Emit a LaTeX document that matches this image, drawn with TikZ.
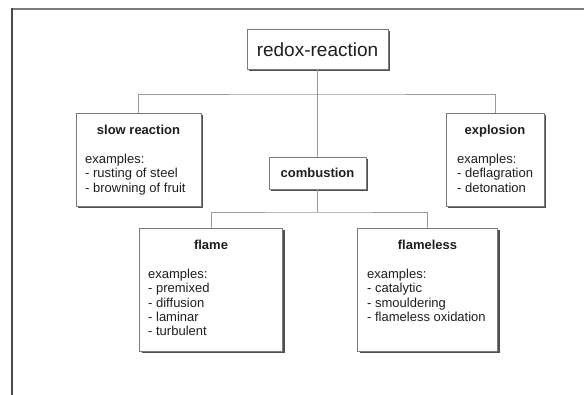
\documentclass[tikz,border=0pt]{standalone}
\usepackage{fontspec}
\setmainfont{Liberation Sans}
\usetikzlibrary{shadows}
\definecolor{boxline}{HTML}{7A7A7A}
\definecolor{shadowc}{HTML}{505050}
\definecolor{conn}{HTML}{9A9A9A}
\definecolor{txt}{HTML}{1E1E1E}
\definecolor{frametop}{HTML}{7A7A7A}
\definecolor{frameleft}{HTML}{4A4A4A}
\tikzset{
  box/.style={draw=boxline, line width=0.8pt, fill=white, inner sep=0pt,
    drop shadow={shadow xshift=2.2pt, shadow yshift=-2.2pt, fill=shadowc, opacity=1}},
  title/.style={inner sep=0pt, anchor=base, text=txt, font=\fontsize{13}{14.3}\selectfont\bfseries},
  list/.style={inner sep=0pt, anchor=base west, text=txt, font=\fontsize{13}{14.3}\selectfont},
  conline/.style={draw=conn, line width=0.8pt}
}
\begin{document}
\begin{tikzpicture}[x=1pt,y=-1pt]
\useasboundingbox (0,0) rectangle (584,395);
% frame
\draw[frametop, line width=1.8pt] (12,9) -- (584,9);
\draw[frameleft, line width=2pt] (12,8.1) -- (12,395);

% boxes
\node[box, minimum width=141pt, minimum height=40pt] (redox) at (317.5,49) {};
\node[box, minimum width=125pt, minimum height=93pt] (slow) at (138.5,159.5) {};
\node[box, minimum width=97pt, minimum height=32pt] (comb) at (317.5,173) {};
\node[box, minimum width=98pt, minimum height=93pt] (explo) at (495,159.5) {};
\node[box, minimum width=143pt, minimum height=123pt] (flame) at (211,289.5) {};
\node[box, minimum width=140pt, minimum height=123pt] (flless) at (427.5,289.5) {};

% connectors
\coordinate (j1) at (317.5,94);
\coordinate (j2) at (317.5,212);
\draw[conline] (slow.north) |- (j1) -| (explo.north);
\draw[conline] (redox.south) -- (comb.north);
\draw[conline] (flame.north) |- (j2) -| (flless.north);
\draw[conline] (comb.south) -- (j2);

% texts
\node[inner sep=0pt, anchor=base, text=txt, font=\fontsize{19}{22}\selectfont] (tredox) at (317.5,57) {redox-reaction};
\node[title] (tslow) at (138.5,135) {slow reaction};
\node[list] (lslow) at (85,163.6) {\begin{tabular}[t]{@{}l@{}}examples:\\- rusting of steel\\- browning of fruit\end{tabular}};
\node[title] (tcomb) at (317.5,177.5) {combustion};
\node[title] (texplo) at (495,135) {explosion};
\node[list] (lexplo) at (457,163.6) {\begin{tabular}[t]{@{}l@{}}examples:\\- deflagration\\- detonation\end{tabular}};
\node[title] (tflame) at (211,250) {flame};
\node[list] (lflame) at (148,278.6) {\begin{tabular}[t]{@{}l@{}}examples:\\- premixed\\- diffusion\\- laminar\\- turbulent\end{tabular}};
\node[title] (tflless) at (427.5,250) {flameless};
\node[list] (lflless) at (367,278.6) {\begin{tabular}[t]{@{}l@{}}examples:\\- catalytic\\- smouldering\\- flameless oxidation\end{tabular}};
\end{tikzpicture}
\end{document}
